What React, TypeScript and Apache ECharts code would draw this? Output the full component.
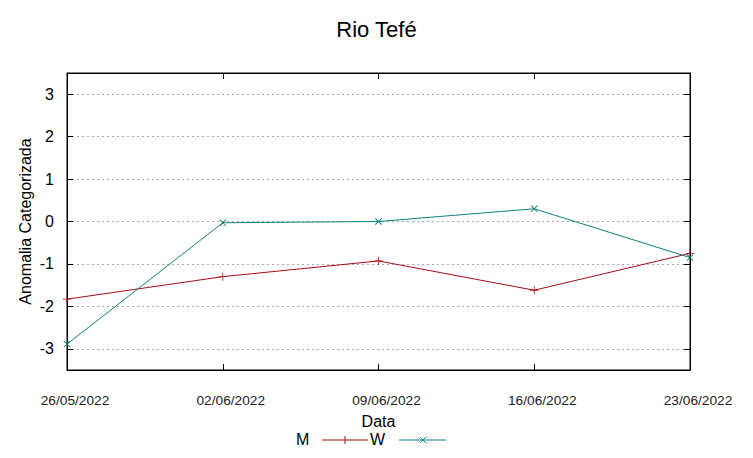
import React, { useEffect, useRef } from "react";
import * as echarts from "echarts";

const dates = ["26/05/2022", "02/06/2022", "09/06/2022", "16/06/2022", "23/06/2022"];
const seriesM = [-1.83, -1.3, -0.93, -1.62, -0.75];
const seriesW = [-2.89, -0.03, 0.0, 0.3, -0.85];
const yTicks = [-3, -2, -1, 0, 1, 2, 3];

const colorM = "#a00d12";
const colorW = "#0f7f7f";
const font = "Liberation Sans, Arial, sans-serif";

const plusPath = "path://M0,3.6H8V4.4H0Z M3.6,0H4.4V8H3.6Z";

export default function App() {
  const ref = useRef<HTMLDivElement>(null);
  useEffect(() => {
    if (!ref.current) return;
    const chart = echarts.init(ref.current, undefined, { renderer: "svg" });
    const gridLeft = 67;
    const gridRight = 63;
    chart.setOption({
      animation: false,
      backgroundColor: "#ffffff",
      title: {
        text: "Rio Tefé",
        left: "center",
        top: 13,
        textStyle: { fontFamily: font, fontSize: 22, fontWeight: "normal", color: "#000" },
      },
      grid: {
        left: gridLeft,
        right: gridRight,
        top: 73,
        bottom: 88,
        show: true,
        borderColor: "#000",
        borderWidth: 1,
      },
      xAxis: [
        {
          type: "category",
          data: dates,
          boundaryGap: false,
          name: "Data",
          nameLocation: "middle",
          nameGap: 43,
          nameMoveOverlap: false,
          nameTextStyle: { fontFamily: font, fontSize: 16, color: "#000" },
          axisLine: { show: true, onZero: false, lineStyle: { color: "#000", width: 1 } },
          axisTick: { show: true, inside: true, length: 6, lineStyle: { color: "#000" } },
          axisLabel: {
            fontFamily: font,
            fontSize: 13.7,
            color: "#222",
            margin: 23,
            padding: [0, 0, 0, 16],
          },
          splitLine: { show: false },
        },
        {
          type: "category",
          data: dates,
          boundaryGap: false,
          position: "top",
          axisLine: { show: true, onZero: false, lineStyle: { color: "#000", width: 1 } },
          axisTick: { show: true, inside: true, length: 6, lineStyle: { color: "#000" } },
          axisLabel: { show: false },
          splitLine: { show: false },
        },
      ],
      yAxis: [
        {
          type: "value",
          min: -3.5,
          max: 3.5,
          name: "Anomalia Categorizada",
          nameLocation: "middle",
          nameGap: 34,
          nameMoveOverlap: false,
          nameTextStyle: { fontFamily: font, fontSize: 16, color: "#000" },
          axisLine: { show: true, onZero: false, lineStyle: { color: "#000", width: 1 } },
          axisTick: { show: true, inside: true, length: 6, customValues: yTicks, lineStyle: { color: "#000" } },
          axisLabel: { fontFamily: font, fontSize: 16, color: "#000", margin: 13, customValues: yTicks },
          splitLine: { show: true, lineStyle: { color: "#a8a8a8", type: [2, 3], width: 1 } },
        },
        {
          type: "value",
          min: -3.5,
          max: 3.5,
          position: "right",
          axisLine: { show: true, onZero: false, lineStyle: { color: "#000", width: 1 } },
          axisTick: { show: true, inside: true, length: 6, customValues: yTicks, lineStyle: { color: "#000" } },
          axisLabel: { show: false, customValues: yTicks },
          splitLine: { show: false },
        },
      ],
      series: [
        {
          name: "M",
          type: "line",
          data: seriesM,
          symbol: plusPath,
          symbolSize: 8,
          showAllSymbol: true,
          lineStyle: { color: colorM, width: 1 },
          itemStyle: { color: colorM },
        },
        {
          name: "W",
          type: "line",
          data: seriesW,
          symbol: plusPath,
          symbolSize: 9,
          symbolRotate: 45,
          showAllSymbol: true,
          lineStyle: { color: colorW, width: 1 },
          itemStyle: { color: colorW },
        },
      ],
      graphic: [
        {
          type: "text",
          left: 296,
          top: 431,
          style: { text: "M", fontFamily: font, fontSize: 16, fill: "#000" },
        },
        { type: "line", shape: { x1: 322, y1: 440, x2: 368, y2: 440 }, style: { stroke: colorM, lineWidth: 1 } },
        { type: "line", shape: { x1: 345, y1: 436, x2: 345, y2: 444 }, style: { stroke: colorM, lineWidth: 1 } },
        {
          type: "text",
          left: 370,
          top: 431,
          style: { text: "W", fontFamily: font, fontSize: 16, fill: "#000" },
        },
        { type: "line", shape: { x1: 399, y1: 440, x2: 446, y2: 440 }, style: { stroke: colorW, lineWidth: 1 } },
        { type: "line", shape: { x1: 420, y1: 437, x2: 426, y2: 443 }, style: { stroke: colorW, lineWidth: 1 } },
        { type: "line", shape: { x1: 420, y1: 443, x2: 426, y2: 437 }, style: { stroke: colorW, lineWidth: 1 } },
      ],
    });
    return () => chart.dispose();
  }, []);
  return <div ref={ref} style={{ position: "absolute", left: 0, top: 0, width: 753, height: 458 }} />;
}
